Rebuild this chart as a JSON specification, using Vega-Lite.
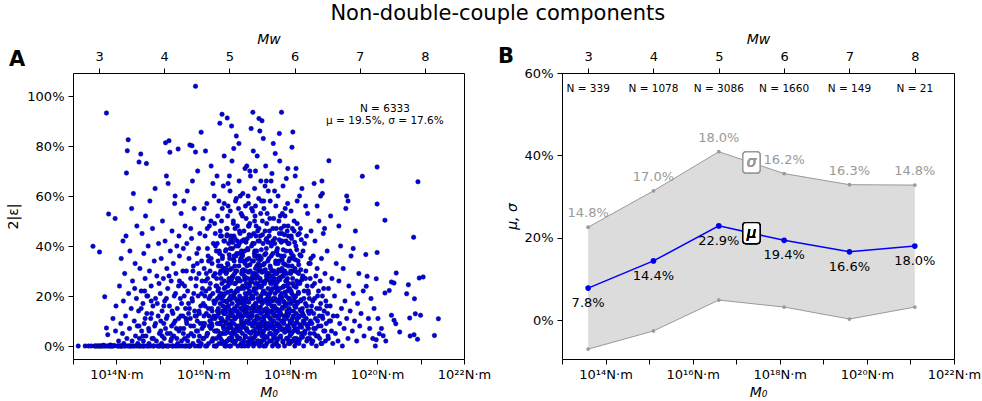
{
  "$schema": "https://vega.github.io/schema/vega-lite/v6.json",
  "padding": {"left": 6, "top": 2, "right": 0, "bottom": 0},
  "title": {"text": "Non-double-couple components", "fontSize": 21, "fontWeight": "normal", "anchor": "middle", "dx": 4, "offset": 8, "color": "#000"},
  "config": {
    "font": "DejaVu Sans",
    "view": {"stroke": "#000", "strokeWidth": 1},
    "axis": {"domain": false, "grid": false, "tickColor": "#000", "tickSize": 5, "labelFontSize": 13, "labelColor": "#000", "labelPadding": 4, "titleFontSize": 14, "titleFontWeight": "normal", "titleColor": "#000"}
  },
  "datasets": {
    "bins": [
      {"Mw": 3, "mu": 0.078, "sigma": 0.148, "hi": 0.226, "lo": -0.070, "nlabel": "N = 339"},
      {"Mw": 4, "mu": 0.144, "sigma": 0.170, "hi": 0.314, "lo": -0.026, "nlabel": "N = 1078"},
      {"Mw": 5, "mu": 0.229, "sigma": 0.180, "hi": 0.409, "lo": 0.049, "nlabel": "N = 3086"},
      {"Mw": 6, "mu": 0.194, "sigma": 0.162, "hi": 0.356, "lo": 0.032, "nlabel": "N = 1660"},
      {"Mw": 7, "mu": 0.166, "sigma": 0.163, "hi": 0.329, "lo": 0.003, "nlabel": "N = 149"},
      {"Mw": 8, "mu": 0.180, "sigma": 0.148, "hi": 0.328, "lo": 0.032, "nlabel": "N = 21"}
    ],
    "eq": [
      {"lgm":13.12,"eps":0},{"lgm":13.28,"eps":0},{"lgm":13.36,"eps":0},{"lgm":13.42,"eps":0},{"lgm":13.46,"eps":0.399},{"lgm":13.5,"eps":0},{"lgm":13.55,"eps":0},{"lgm":13.61,"eps":0.376},{"lgm":13.6,"eps":0},{"lgm":13.65,"eps":0},{"lgm":13.7,"eps":0.003},{"lgm":13.73,"eps":0.197},{"lgm":13.75,"eps":0},{"lgm":13.77,"eps":0.932},{"lgm":13.77,"eps":0.072},{"lgm":13.8,"eps":0.045},{"lgm":13.82,"eps":0.528},{"lgm":13.83,"eps":0},{"lgm":13.86,"eps":0.004},{"lgm":13.9,"eps":0},{"lgm":13.92,"eps":0.11},{"lgm":13.95,"eps":0.002},{"lgm":13.97,"eps":0.51},{"lgm":13.98,"eps":0.06},{"lgm":13.99,"eps":0.16},
      {"lgm":13.52,"eps":0},{"lgm":13.58,"eps":0},{"lgm":13.63,"eps":0},{"lgm":13.68,"eps":0},{"lgm":13.72,"eps":0},{"lgm":13.79,"eps":0},{"lgm":13.85,"eps":0},{"lgm":13.88,"eps":0},{"lgm":13.93,"eps":0},{"lgm":14.04,"eps":0},{"lgm":14.09,"eps":0},{"lgm":14.12,"eps":0},{"lgm":14.18,"eps":0},{"lgm":14.32,"eps":0},{"lgm":14.38,"eps":0},{"lgm":14.53,"eps":0},{"lgm":14.62,"eps":0},{"lgm":14.73,"eps":0},{"lgm":14.85,"eps":0},{"lgm":14.98,"eps":0},{"lgm":15.08,"eps":0},{"lgm":15.18,"eps":0},{"lgm":15.3,"eps":0},{"lgm":15.4,"eps":0},{"lgm":15.58,"eps":0},{"lgm":15.7,"eps":0},{"lgm":15.88,"eps":0},{"lgm":16.08,"eps":0},{"lgm":16.25,"eps":0},
      {"lgm":14.02,"eps":0},{"lgm":14.05,"eps":0.02},{"lgm":14.07,"eps":0.24},{"lgm":14.08,"eps":0},{"lgm":14.1,"eps":0.09},{"lgm":14.11,"eps":0.35},{"lgm":14.13,"eps":0},{"lgm":14.14,"eps":0.05},{"lgm":14.16,"eps":0.18},{"lgm":14.17,"eps":0.01},{"lgm":14.19,"eps":0.29},{"lgm":14.2,"eps":0},{"lgm":14.21,"eps":0.12},{"lgm":14.22,"eps":0.44},{"lgm":14.23,"eps":0.692},{"lgm":14.25,"eps":0.781},{"lgm":14.27,"eps":0.825},{"lgm":14.24,"eps":0.03},{"lgm":14.26,"eps":0},{"lgm":14.28,"eps":0.21},{"lgm":14.3,"eps":0.07},{"lgm":14.31,"eps":0.38},{"lgm":14.33,"eps":0},{"lgm":14.34,"eps":0.15},{"lgm":14.36,"eps":0.02},{"lgm":14.37,"eps":0.26},{"lgm":14.39,"eps":0.61},{"lgm":14.4,"eps":0},{"lgm":14.41,"eps":0.1},{"lgm":14.43,"eps":0.33},{"lgm":14.44,"eps":0.04},{"lgm":14.45,"eps":0},{"lgm":14.46,"eps":0.19},{"lgm":14.47,"eps":0.48},{"lgm":14.48,"eps":0.08},{"lgm":14.49,"eps":0.01},{"lgm":14.35,"eps":0.55},{"lgm":14.15,"eps":0.42},{"lgm":14.29,"eps":0},{"lgm":14.42,"eps":0.23},
      {"lgm":14.5,"eps":0},{"lgm":14.51,"eps":0.14},{"lgm":14.52,"eps":0.736},{"lgm":14.53,"eps":0.03},{"lgm":14.54,"eps":0.31},{"lgm":14.55,"eps":0},{"lgm":14.56,"eps":0.768},{"lgm":14.57,"eps":0.22},{"lgm":14.58,"eps":0.06},{"lgm":14.59,"eps":0.45},{"lgm":14.6,"eps":0},{"lgm":14.61,"eps":0.17},{"lgm":14.62,"eps":0.02},{"lgm":14.63,"eps":0.37},{"lgm":14.64,"eps":0.09},{"lgm":14.65,"eps":0},{"lgm":14.66,"eps":0.27},{"lgm":14.67,"eps":0.52},{"lgm":14.68,"eps":0.04},{"lgm":14.69,"eps":0.73},{"lgm":14.7,"eps":0.13},{"lgm":14.71,"eps":0},{"lgm":14.72,"eps":0.2},{"lgm":14.73,"eps":0.4},{"lgm":14.74,"eps":0.07},{"lgm":14.75,"eps":0.01},{"lgm":14.76,"eps":0.3},{"lgm":14.77,"eps":0.58},{"lgm":14.78,"eps":0},{"lgm":14.79,"eps":0.11},{"lgm":14.8,"eps":0.24},{"lgm":14.82,"eps":0.03},{"lgm":14.83,"eps":0.47},{"lgm":14.84,"eps":0.16},{"lgm":14.86,"eps":0},{"lgm":14.87,"eps":0.34},{"lgm":14.88,"eps":0.08},{"lgm":14.89,"eps":0.63},{"lgm":14.9,"eps":0.19},{"lgm":14.92,"eps":0.02},{"lgm":14.93,"eps":0.28},{"lgm":14.95,"eps":0},{"lgm":14.96,"eps":0.12},{"lgm":14.97,"eps":0.41},{"lgm":14.99,"eps":0.05},
      {"lgm":15.0,"eps":0},{"lgm":15.01,"eps":0.21},{"lgm":15.02,"eps":0.06},{"lgm":15.03,"eps":0.35},{"lgm":15.04,"eps":0.01},{"lgm":15.05,"eps":0.14},{"lgm":15.06,"eps":0.5},{"lgm":15.07,"eps":0},{"lgm":15.08,"eps":0.27},{"lgm":15.09,"eps":0.09},{"lgm":15.1,"eps":0.03},{"lgm":15.11,"eps":0.18},{"lgm":15.12,"eps":0.42},{"lgm":15.13,"eps":0.813},{"lgm":15.14,"eps":0},{"lgm":15.15,"eps":0.11},{"lgm":15.16,"eps":0.31},{"lgm":15.17,"eps":0.05},{"lgm":15.18,"eps":0.23},{"lgm":15.19,"eps":0.65},{"lgm":15.2,"eps":0},{"lgm":15.21,"eps":0.821},{"lgm":15.22,"eps":0.16},{"lgm":15.23,"eps":0.775},{"lgm":15.24,"eps":0.38},{"lgm":15.25,"eps":0.02},{"lgm":15.26,"eps":0.26},{"lgm":15.27,"eps":0.08},{"lgm":15.28,"eps":0.46},{"lgm":15.29,"eps":0},{"lgm":15.3,"eps":0.13},{"lgm":15.31,"eps":0.33},{"lgm":15.32,"eps":0.04},{"lgm":15.33,"eps":0.2},{"lgm":15.34,"eps":0.57},{"lgm":15.35,"eps":0.1},{"lgm":15.36,"eps":0},{"lgm":15.37,"eps":0.29},{"lgm":15.38,"eps":0.07},{"lgm":15.39,"eps":0.4},{"lgm":15.4,"eps":0.15},{"lgm":15.41,"eps":0.01},{"lgm":15.42,"eps":0.788},{"lgm":15.43,"eps":0.24},{"lgm":15.44,"eps":0.06},{"lgm":15.45,"eps":0.36},{"lgm":15.46,"eps":0},{"lgm":15.47,"eps":0.19},{"lgm":15.48,"eps":0.12},{"lgm":15.49,"eps":0.53},{"lgm":15.15,"eps":0.68},{"lgm":15.35,"eps":0.6},{"lgm":15.27,"eps":0.03},{"lgm":15.44,"eps":0.44},{"lgm":15.06,"eps":0},
      {"lgm":15.5,"eps":0.02},{"lgm":15.51,"eps":0.25},{"lgm":15.52,"eps":0},{"lgm":15.53,"eps":0.12},{"lgm":15.54,"eps":0.39},{"lgm":15.55,"eps":0.07},{"lgm":15.56,"eps":0.2},{"lgm":15.57,"eps":0.03},{"lgm":15.58,"eps":0.48},{"lgm":15.59,"eps":0.15},{"lgm":15.6,"eps":0},{"lgm":15.61,"eps":0.3},{"lgm":15.62,"eps":0.09},{"lgm":15.63,"eps":0.62},{"lgm":15.64,"eps":0.22},{"lgm":15.65,"eps":0.04},{"lgm":15.66,"eps":0.17},{"lgm":15.67,"eps":0.35},{"lgm":15.68,"eps":0},{"lgm":15.69,"eps":0.804},{"lgm":15.7,"eps":0.11},{"lgm":15.71,"eps":0.27},{"lgm":15.72,"eps":0.05},{"lgm":15.73,"eps":0.43},{"lgm":15.74,"eps":0.801},{"lgm":15.75,"eps":0.18},{"lgm":15.76,"eps":0.01},{"lgm":15.77,"eps":0.32},{"lgm":15.78,"eps":0.08},{"lgm":15.79,"eps":0.55},{"lgm":15.8,"eps":0.14},{"lgm":15.81,"eps":0},{"lgm":15.82,"eps":0.776},{"lgm":15.82,"eps":1.039},{"lgm":15.83,"eps":0.24},{"lgm":15.84,"eps":0.06},{"lgm":15.85,"eps":0.37},{"lgm":15.86,"eps":0.1},{"lgm":15.87,"eps":0.7},{"lgm":15.88,"eps":0.2},{"lgm":15.89,"eps":0.02},{"lgm":15.9,"eps":0.29},{"lgm":15.91,"eps":0.13},{"lgm":15.92,"eps":0.45},{"lgm":15.93,"eps":0},{"lgm":15.94,"eps":0.16},{"lgm":15.95,"eps":0.855},{"lgm":15.96,"eps":0.34},{"lgm":15.97,"eps":0.07},{"lgm":15.98,"eps":0.23},{"lgm":15.99,"eps":0.51},{"lgm":15.55,"eps":0.58},{"lgm":15.62,"eps":0.41},{"lgm":15.66,"eps":0},{"lgm":15.71,"eps":0.47},{"lgm":15.78,"eps":0.21},{"lgm":15.86,"eps":0.33},{"lgm":15.91,"eps":0.04},{"lgm":15.97,"eps":0.26},{"lgm":15.53,"eps":0.3},{"lgm":15.6,"eps":0.11},{"lgm":15.75,"eps":0.66},{"lgm":15.84,"eps":0.12},{"lgm":15.89,"eps":0.39},{"lgm":15.99,"eps":0.09},
      {"lgm":14.52,"eps":0.08},{"lgm":14.57,"eps":0.15},{"lgm":14.61,"eps":0.04},{"lgm":14.66,"eps":0.11},{"lgm":14.7,"eps":0.2},{"lgm":14.75,"eps":0.06},{"lgm":14.81,"eps":0.13},{"lgm":14.85,"eps":0.03},{"lgm":14.9,"eps":0.09},{"lgm":14.94,"eps":0.17},{"lgm":14.98,"eps":0.25},{"lgm":15.02,"eps":0.1},{"lgm":15.05,"eps":0.04},{"lgm":15.09,"eps":0.16},{"lgm":15.13,"eps":0.07},{"lgm":15.17,"eps":0.12},{"lgm":15.21,"eps":0.28},{"lgm":15.24,"eps":0.05},{"lgm":15.28,"eps":0.14},{"lgm":15.32,"eps":0.09},{"lgm":15.36,"eps":0.21},{"lgm":15.39,"eps":0.03},{"lgm":15.43,"eps":0.11},{"lgm":15.47,"eps":0.07},{"lgm":15.5,"eps":0.17},{"lgm":15.54,"eps":0.05},{"lgm":15.57,"eps":0.24},{"lgm":15.61,"eps":0.1},{"lgm":15.64,"eps":0.02},{"lgm":15.68,"eps":0.15},{"lgm":15.71,"eps":0.08},{"lgm":15.74,"eps":0.19},{"lgm":15.78,"eps":0.04},{"lgm":15.81,"eps":0.12},{"lgm":15.84,"eps":0.27},{"lgm":15.87,"eps":0.06},{"lgm":15.9,"eps":0.14},{"lgm":15.93,"eps":0.09},{"lgm":15.96,"eps":0.21},{"lgm":15.99,"eps":0.03},{"lgm":16.01,"eps":0.08},{"lgm":16.04,"eps":0.16},{"lgm":16.07,"eps":0.29},{"lgm":16.1,"eps":0.05},{"lgm":16.13,"eps":0.12},{"lgm":16.16,"eps":0.2},{"lgm":16.19,"eps":0.09},{"lgm":16.22,"eps":0.03},{"lgm":16.24,"eps":0.18},{"lgm":16.27,"eps":0.11},{"lgm":16.29,"eps":0.24},{"lgm":16.31,"eps":0.06},{"lgm":15.76,"eps":0.3},{"lgm":15.45,"eps":0.26},{"lgm":15.15,"eps":0.19},{"lgm":14.8,"eps":0.18},{"lgm":14.65,"eps":0.22},{"lgm":15.66,"eps":0.13},{"lgm":15.95,"eps":0.01},{"lgm":16.2,"eps":0.14},
      {"lgm":16.0,"eps":0.17},{"lgm":16.01,"eps":0.03},{"lgm":16.02,"eps":0.31},{"lgm":16.03,"eps":0.09},{"lgm":16.04,"eps":0.44},{"lgm":16.05,"eps":0},{"lgm":16.06,"eps":0.22},{"lgm":16.07,"eps":0.13},{"lgm":16.08,"eps":0.57},{"lgm":16.09,"eps":0.05},{"lgm":16.1,"eps":0.27},{"lgm":16.11,"eps":0.36},{"lgm":16.12,"eps":0.01},{"lgm":16.13,"eps":0.19},{"lgm":16.14,"eps":0.48},{"lgm":16.15,"eps":0.1},{"lgm":16.16,"eps":0.25},{"lgm":16.17,"eps":0.07},{"lgm":16.18,"eps":0.72},{"lgm":16.19,"eps":0.15},{"lgm":16.2,"eps":0.33},{"lgm":16.21,"eps":0.02},{"lgm":16.22,"eps":0.21},{"lgm":16.23,"eps":0.41},{"lgm":16.24,"eps":0.12},{"lgm":16.25,"eps":0.6},{"lgm":16.26,"eps":0.06},{"lgm":16.27,"eps":0.29},{"lgm":16.28,"eps":0.18},{"lgm":16.29,"eps":0},{"lgm":16.3,"eps":0.38},{"lgm":16.31,"eps":0.24},{"lgm":16.32,"eps":0.09},{"lgm":16.33,"eps":0.52},{"lgm":16.34,"eps":0.14},{"lgm":16.35,"eps":0.32},{"lgm":16.36,"eps":0.04},{"lgm":16.37,"eps":0.2},{"lgm":16.38,"eps":0.891},{"lgm":16.39,"eps":0.46},{"lgm":16.4,"eps":0.11},{"lgm":16.41,"eps":0.27},{"lgm":16.42,"eps":0.01},{"lgm":16.43,"eps":0.927},{"lgm":16.44,"eps":0.35},{"lgm":16.45,"eps":0.16},{"lgm":16.46,"eps":0.64},{"lgm":16.47,"eps":0.07},{"lgm":16.48,"eps":0.23},{"lgm":16.49,"eps":0.42},
      {"lgm":16.015,"eps":0.12},{"lgm":16.035,"eps":0.2},{"lgm":16.055,"eps":0.26},{"lgm":16.075,"eps":0.04},{"lgm":16.095,"eps":0.39},{"lgm":16.115,"eps":0.15},{"lgm":16.135,"eps":0.08},{"lgm":16.155,"eps":0.3},{"lgm":16.175,"eps":0.5},{"lgm":16.195,"eps":0.02},{"lgm":16.215,"eps":0.11},{"lgm":16.235,"eps":0.28},{"lgm":16.255,"eps":0.17},{"lgm":16.275,"eps":0.45},{"lgm":16.295,"eps":0.06},{"lgm":16.315,"eps":0.68},{"lgm":16.335,"eps":0.22},{"lgm":16.355,"eps":0.13},{"lgm":16.375,"eps":0.37},{"lgm":16.395,"eps":0.03},{"lgm":16.415,"eps":0.19},{"lgm":16.435,"eps":0.55},{"lgm":16.455,"eps":0.1},{"lgm":16.475,"eps":0.31},{"lgm":16.495,"eps":0},{"lgm":16.05,"eps":0.78},{"lgm":16.12,"eps":0.34},{"lgm":16.2,"eps":0.08},{"lgm":16.28,"eps":0.4},{"lgm":16.36,"eps":0.58},{"lgm":16.44,"eps":0.05},{"lgm":16.48,"eps":0.76},{"lgm":16.26,"eps":0.49},{"lgm":16.14,"eps":0.23},{"lgm":16.32,"eps":0.14},{"lgm":16.4,"eps":0.3},{"lgm":16.22,"eps":0.65},{"lgm":16.46,"eps":0.2},{"lgm":16.09,"eps":0.47},{"lgm":16.3,"eps":0},{"lgm":16.42,"eps":0.44},{"lgm":16.18,"eps":0.35},{"lgm":16.38,"eps":0.09},{"lgm":16.02,"eps":0.55},{"lgm":16.47,"eps":0.13},
      {"lgm":16.3,"eps":0.03},{"lgm":16.307,"eps":0.27},{"lgm":16.313,"eps":0.12},{"lgm":16.32,"eps":0.41},{"lgm":16.327,"eps":0.19},{"lgm":16.333,"eps":0.06},{"lgm":16.34,"eps":0.34},{"lgm":16.347,"eps":0.15},{"lgm":16.353,"eps":0.23},{"lgm":16.36,"eps":0.01},{"lgm":16.367,"eps":0.38},{"lgm":16.373,"eps":0.09},{"lgm":16.38,"eps":0.29},{"lgm":16.387,"eps":0.17},{"lgm":16.393,"eps":0.44},{"lgm":16.4,"eps":0.05},{"lgm":16.407,"eps":0.21},{"lgm":16.413,"eps":0.32},{"lgm":16.42,"eps":0.11},{"lgm":16.427,"eps":0.25},{"lgm":16.433,"eps":0.02},{"lgm":16.44,"eps":0.36},{"lgm":16.447,"eps":0.14},{"lgm":16.453,"eps":0.08},{"lgm":16.46,"eps":0.3},{"lgm":16.467,"eps":0.18},{"lgm":16.473,"eps":0.42},{"lgm":16.48,"eps":0.07},{"lgm":16.487,"eps":0.26},{"lgm":16.493,"eps":0.13},
      {"lgm":16.502,"eps":0.155},{"lgm":16.508,"eps":0.235},{"lgm":16.515,"eps":0.015},{"lgm":16.522,"eps":0.385},{"lgm":16.528,"eps":0.095},{"lgm":16.535,"eps":0.295},{"lgm":16.542,"eps":0.175},{"lgm":16.548,"eps":0.445},{"lgm":16.555,"eps":0.055},{"lgm":16.562,"eps":0.215},{"lgm":16.568,"eps":0.325},{"lgm":16.575,"eps":0.115},{"lgm":16.582,"eps":0.255},{"lgm":16.588,"eps":0.025},{"lgm":16.595,"eps":0.365},{"lgm":16.602,"eps":0.145},{"lgm":16.608,"eps":0.085},{"lgm":16.615,"eps":0.305},{"lgm":16.622,"eps":0.185},{"lgm":16.628,"eps":0.425},{"lgm":16.635,"eps":0.075},{"lgm":16.642,"eps":0.265},{"lgm":16.648,"eps":0.135},{"lgm":16.655,"eps":0.035},{"lgm":16.662,"eps":0.275},{"lgm":16.668,"eps":0.125},{"lgm":16.675,"eps":0.415},{"lgm":16.682,"eps":0.195},{"lgm":16.688,"eps":0.065},{"lgm":16.695,"eps":0.345},
      {"lgm":16.704,"eps":0.44},{"lgm":16.71,"eps":0.05},{"lgm":16.717,"eps":0.21},{"lgm":16.724,"eps":0.32},{"lgm":16.73,"eps":0.11},{"lgm":16.737,"eps":0.25},{"lgm":16.744,"eps":0.02},{"lgm":16.75,"eps":0.36},{"lgm":16.757,"eps":0.14},{"lgm":16.764,"eps":0.08},{"lgm":16.77,"eps":0.3},{"lgm":16.777,"eps":0.18},{"lgm":16.784,"eps":0.42},{"lgm":16.79,"eps":0.07},{"lgm":16.797,"eps":0.26},{"lgm":16.804,"eps":0.13},{"lgm":16.81,"eps":0.03},{"lgm":16.817,"eps":0.27},{"lgm":16.824,"eps":0.12},{"lgm":16.83,"eps":0.41},{"lgm":16.837,"eps":0.19},{"lgm":16.844,"eps":0.06},{"lgm":16.85,"eps":0.34},{"lgm":16.857,"eps":0.15},{"lgm":16.864,"eps":0.23},{"lgm":16.87,"eps":0.01},{"lgm":16.877,"eps":0.38},{"lgm":16.884,"eps":0.09},{"lgm":16.89,"eps":0.29},{"lgm":16.897,"eps":0.17},
      {"lgm":16.901,"eps":0.365},{"lgm":16.908,"eps":0.145},{"lgm":16.914,"eps":0.085},{"lgm":16.921,"eps":0.305},{"lgm":16.928,"eps":0.185},{"lgm":16.934,"eps":0.425},{"lgm":16.941,"eps":0.075},{"lgm":16.948,"eps":0.265},{"lgm":16.954,"eps":0.135},{"lgm":16.961,"eps":0.035},{"lgm":16.968,"eps":0.275},{"lgm":16.974,"eps":0.125},{"lgm":16.981,"eps":0.415},{"lgm":16.988,"eps":0.195},{"lgm":16.994,"eps":0.065},{"lgm":17.001,"eps":0.345},{"lgm":17.008,"eps":0.155},{"lgm":17.014,"eps":0.235},{"lgm":17.021,"eps":0.015},{"lgm":17.028,"eps":0.385},{"lgm":17.034,"eps":0.095},{"lgm":17.041,"eps":0.295},{"lgm":17.048,"eps":0.175},{"lgm":17.054,"eps":0.445},{"lgm":17.061,"eps":0.055},{"lgm":17.068,"eps":0.215},{"lgm":17.074,"eps":0.325},{"lgm":17.081,"eps":0.115},{"lgm":17.088,"eps":0.255},{"lgm":17.094,"eps":0.025},
      {"lgm":17.103,"eps":0.26},{"lgm":17.11,"eps":0.13},{"lgm":17.116,"eps":0.03},{"lgm":17.123,"eps":0.27},{"lgm":17.13,"eps":0.12},{"lgm":17.136,"eps":0.41},{"lgm":17.143,"eps":0.19},{"lgm":17.15,"eps":0.06},{"lgm":17.156,"eps":0.34},{"lgm":17.163,"eps":0.15},{"lgm":17.17,"eps":0.23},{"lgm":17.176,"eps":0.01},{"lgm":17.183,"eps":0.38},{"lgm":17.19,"eps":0.09},{"lgm":17.196,"eps":0.29},{"lgm":17.203,"eps":0.17},{"lgm":17.21,"eps":0.44},{"lgm":17.216,"eps":0.05},{"lgm":17.223,"eps":0.21},{"lgm":17.23,"eps":0.32},{"lgm":17.236,"eps":0.11},{"lgm":17.243,"eps":0.25},{"lgm":17.25,"eps":0.02},{"lgm":17.256,"eps":0.36},{"lgm":17.263,"eps":0.14},{"lgm":17.27,"eps":0.08},{"lgm":17.276,"eps":0.3},{"lgm":17.283,"eps":0.18},{"lgm":17.29,"eps":0.42},{"lgm":17.296,"eps":0.07},
      {"lgm":17.302,"eps":0.065},{"lgm":17.309,"eps":0.345},{"lgm":17.315,"eps":0.155},{"lgm":17.322,"eps":0.235},{"lgm":17.329,"eps":0.015},{"lgm":17.335,"eps":0.385},{"lgm":17.342,"eps":0.095},{"lgm":17.349,"eps":0.295},{"lgm":17.355,"eps":0.175},{"lgm":17.362,"eps":0.445},{"lgm":17.369,"eps":0.055},{"lgm":17.375,"eps":0.215},{"lgm":17.382,"eps":0.325},{"lgm":17.389,"eps":0.115},{"lgm":17.395,"eps":0.255},{"lgm":17.402,"eps":0.025},{"lgm":17.409,"eps":0.365},{"lgm":17.415,"eps":0.145},{"lgm":17.422,"eps":0.085},{"lgm":17.429,"eps":0.305},{"lgm":17.435,"eps":0.185},{"lgm":17.442,"eps":0.425},{"lgm":17.449,"eps":0.075},{"lgm":17.455,"eps":0.265},{"lgm":17.462,"eps":0.135},{"lgm":17.469,"eps":0.035},{"lgm":17.475,"eps":0.275},{"lgm":17.482,"eps":0.125},{"lgm":17.489,"eps":0.415},{"lgm":17.495,"eps":0.195},
      {"lgm":17.504,"eps":0.29},{"lgm":17.511,"eps":0.17},{"lgm":17.517,"eps":0.44},{"lgm":17.524,"eps":0.05},{"lgm":17.531,"eps":0.21},{"lgm":17.537,"eps":0.32},{"lgm":17.544,"eps":0.11},{"lgm":17.551,"eps":0.25},{"lgm":17.557,"eps":0.02},{"lgm":17.564,"eps":0.36},{"lgm":17.571,"eps":0.14},{"lgm":17.577,"eps":0.08},{"lgm":17.584,"eps":0.3},{"lgm":17.591,"eps":0.18},{"lgm":17.597,"eps":0.42},{"lgm":17.604,"eps":0.07},{"lgm":17.611,"eps":0.26},{"lgm":17.617,"eps":0.13},{"lgm":17.624,"eps":0.03},{"lgm":17.631,"eps":0.27},{"lgm":17.637,"eps":0.12},{"lgm":17.644,"eps":0.41},{"lgm":17.651,"eps":0.19},{"lgm":17.657,"eps":0.06},{"lgm":17.664,"eps":0.34},{"lgm":17.671,"eps":0.15},{"lgm":17.677,"eps":0.23},{"lgm":17.684,"eps":0.01},{"lgm":17.691,"eps":0.38},{"lgm":17.697,"eps":0.09},
      {"lgm":17.701,"eps":0.255},{"lgm":17.708,"eps":0.025},{"lgm":17.714,"eps":0.365},{"lgm":17.721,"eps":0.145},{"lgm":17.728,"eps":0.085},{"lgm":17.734,"eps":0.305},{"lgm":17.741,"eps":0.185},{"lgm":17.748,"eps":0.425},{"lgm":17.754,"eps":0.075},{"lgm":17.761,"eps":0.265},{"lgm":17.768,"eps":0.135},{"lgm":17.774,"eps":0.035},{"lgm":17.781,"eps":0.275},{"lgm":17.788,"eps":0.125},{"lgm":17.794,"eps":0.415},{"lgm":17.801,"eps":0.195},{"lgm":17.808,"eps":0.065},{"lgm":17.814,"eps":0.345},{"lgm":17.821,"eps":0.155},{"lgm":17.828,"eps":0.235},{"lgm":17.834,"eps":0.015},{"lgm":17.841,"eps":0.385},{"lgm":17.848,"eps":0.095},{"lgm":17.854,"eps":0.295},{"lgm":17.861,"eps":0.175},{"lgm":17.868,"eps":0.445},{"lgm":17.874,"eps":0.055},{"lgm":17.881,"eps":0.215},{"lgm":17.888,"eps":0.325},{"lgm":17.894,"eps":0.115},
      {"lgm":17.903,"eps":0.42},{"lgm":17.91,"eps":0.07},{"lgm":17.916,"eps":0.26},{"lgm":17.923,"eps":0.13},{"lgm":17.93,"eps":0.03},{"lgm":17.936,"eps":0.27},{"lgm":17.943,"eps":0.12},{"lgm":17.95,"eps":0.41},{"lgm":17.956,"eps":0.19},{"lgm":17.963,"eps":0.06},{"lgm":17.97,"eps":0.34},{"lgm":17.976,"eps":0.15},{"lgm":17.983,"eps":0.23},{"lgm":17.99,"eps":0.01},{"lgm":17.996,"eps":0.38},{"lgm":18.003,"eps":0.09},{"lgm":18.01,"eps":0.29},{"lgm":18.016,"eps":0.17},{"lgm":18.023,"eps":0.44},{"lgm":18.03,"eps":0.05},{"lgm":18.036,"eps":0.21},{"lgm":18.043,"eps":0.32},{"lgm":18.05,"eps":0.11},{"lgm":18.056,"eps":0.25},{"lgm":18.063,"eps":0.02},{"lgm":18.07,"eps":0.36},{"lgm":18.076,"eps":0.14},{"lgm":18.083,"eps":0.08},{"lgm":18.09,"eps":0.3},{"lgm":18.096,"eps":0.18},
      {"lgm":18.102,"eps":0.415},{"lgm":18.109,"eps":0.195},{"lgm":18.115,"eps":0.065},{"lgm":18.122,"eps":0.345},{"lgm":18.129,"eps":0.155},{"lgm":18.135,"eps":0.235},{"lgm":18.142,"eps":0.015},{"lgm":18.149,"eps":0.385},{"lgm":18.155,"eps":0.095},{"lgm":18.162,"eps":0.295},{"lgm":18.169,"eps":0.175},{"lgm":18.175,"eps":0.445},{"lgm":18.182,"eps":0.055},{"lgm":18.189,"eps":0.215},{"lgm":18.195,"eps":0.325},{"lgm":18.202,"eps":0.115},{"lgm":18.209,"eps":0.255},{"lgm":18.215,"eps":0.025},{"lgm":18.222,"eps":0.365},{"lgm":18.229,"eps":0.145},{"lgm":18.235,"eps":0.085},{"lgm":18.242,"eps":0.305},{"lgm":18.249,"eps":0.185},{"lgm":18.255,"eps":0.425},{"lgm":18.262,"eps":0.075},{"lgm":18.269,"eps":0.265},{"lgm":18.275,"eps":0.135},{"lgm":18.282,"eps":0.035},{"lgm":18.289,"eps":0.275},{"lgm":18.295,"eps":0.125},
      {"lgm":16.42,"eps":0.5},{"lgm":16.48,"eps":0.57},{"lgm":16.55,"eps":0.47},{"lgm":16.62,"eps":0.54},{"lgm":16.69,"eps":0.49},{"lgm":16.76,"eps":0.59},{"lgm":16.83,"eps":0.46},{"lgm":16.9,"eps":0.52},{"lgm":16.97,"eps":0.56},{"lgm":17.04,"eps":0.48},{"lgm":17.11,"eps":0.55},{"lgm":17.18,"eps":0.5},{"lgm":17.25,"eps":0.46},{"lgm":17.32,"eps":0.53},{"lgm":17.39,"eps":0.58},{"lgm":17.46,"eps":0.49},{"lgm":17.53,"eps":0.51},{"lgm":17.6,"eps":0.47},{"lgm":17.67,"eps":0.56},{"lgm":17.74,"eps":0.5},{"lgm":17.81,"eps":0.45},{"lgm":17.88,"eps":0.52},{"lgm":17.95,"eps":0.48},{"lgm":18.02,"eps":0.54},{"lgm":18.09,"eps":0.46},{"lgm":18.16,"eps":0.49},{"lgm":16.6,"eps":0.68},{"lgm":17.0,"eps":0.72},{"lgm":17.45,"eps":0.66},{"lgm":17.2,"eps":0.7},
      {"lgm":16.5,"eps":0.21},{"lgm":16.505,"eps":0.05},{"lgm":16.51,"eps":0.38},{"lgm":16.515,"eps":0.14},{"lgm":16.52,"eps":0},{"lgm":16.525,"eps":0.29},{"lgm":16.53,"eps":0.09},{"lgm":16.535,"eps":0.47},{"lgm":16.54,"eps":0.18},{"lgm":16.545,"eps":0.02},{"lgm":16.55,"eps":0.912},{"lgm":16.555,"eps":0.33},{"lgm":16.56,"eps":0.11},{"lgm":16.565,"eps":0.24},{"lgm":16.57,"eps":0.56},{"lgm":16.575,"eps":0.07},{"lgm":16.58,"eps":0.16},{"lgm":16.585,"eps":0.41},{"lgm":16.59,"eps":0.27},{"lgm":16.595,"eps":0.03},
      {"lgm":16.6,"eps":0.19},{"lgm":16.605,"eps":0.35},{"lgm":16.61,"eps":0.08},{"lgm":16.615,"eps":0.62},{"lgm":16.62,"eps":0.13},{"lgm":16.625,"eps":0.26},{"lgm":16.63,"eps":0},{"lgm":16.635,"eps":0.44},{"lgm":16.64,"eps":0.22},{"lgm":16.645,"eps":0.1},{"lgm":16.65,"eps":0.31},{"lgm":16.655,"eps":0.05},{"lgm":16.66,"eps":0.74},{"lgm":16.665,"eps":0.17},{"lgm":16.67,"eps":0.39},{"lgm":16.675,"eps":0.12},{"lgm":16.68,"eps":0.28},{"lgm":16.685,"eps":0.02},{"lgm":16.69,"eps":0.5},{"lgm":16.695,"eps":0.2},
      {"lgm":16.7,"eps":0.09},{"lgm":16.705,"eps":0.36},{"lgm":16.71,"eps":0.15},{"lgm":16.715,"eps":0.25},{"lgm":16.72,"eps":0.01},{"lgm":16.725,"eps":0.43},{"lgm":16.73,"eps":0.19},{"lgm":16.735,"eps":0.11},{"lgm":16.74,"eps":0.58},{"lgm":16.745,"eps":0.3},{"lgm":16.75,"eps":0.06},{"lgm":16.755,"eps":0.22},{"lgm":16.76,"eps":0.84},{"lgm":16.765,"eps":0.14},{"lgm":16.77,"eps":0.37},{"lgm":16.775,"eps":0.04},{"lgm":16.78,"eps":0.27},{"lgm":16.785,"eps":0.48},{"lgm":16.79,"eps":0.12},{"lgm":16.795,"eps":0},
      {"lgm":16.8,"eps":0.23},{"lgm":16.805,"eps":0.4},{"lgm":16.81,"eps":0.08},{"lgm":16.815,"eps":0.17},{"lgm":16.82,"eps":0.32},{"lgm":16.825,"eps":0.66},{"lgm":16.83,"eps":0.03},{"lgm":16.835,"eps":0.2},{"lgm":16.84,"eps":0.13},{"lgm":16.845,"eps":0.45},{"lgm":16.85,"eps":0.26},{"lgm":16.855,"eps":0.07},{"lgm":16.86,"eps":0.35},{"lgm":16.865,"eps":0.18},{"lgm":16.87,"eps":0.53},{"lgm":16.875,"eps":0.1},{"lgm":16.88,"eps":0},{"lgm":16.885,"eps":0.29},{"lgm":16.89,"eps":0.42},{"lgm":16.895,"eps":0.15},
      {"lgm":16.9,"eps":0.05},{"lgm":16.905,"eps":0.24},{"lgm":16.91,"eps":0.61},{"lgm":16.915,"eps":0.12},{"lgm":16.92,"eps":0.34},{"lgm":16.925,"eps":0.19},{"lgm":16.93,"eps":0.02},{"lgm":16.935,"eps":0.46},{"lgm":16.94,"eps":0.28},{"lgm":16.945,"eps":0.09},{"lgm":16.95,"eps":0.38},{"lgm":16.955,"eps":0.16},{"lgm":16.96,"eps":0.71},{"lgm":16.965,"eps":0.21},{"lgm":16.97,"eps":0.04},{"lgm":16.975,"eps":0.3},{"lgm":16.98,"eps":0.14},{"lgm":16.985,"eps":0.51},{"lgm":16.99,"eps":0.25},{"lgm":16.995,"eps":0.07},
      {"lgm":16.52,"eps":0.31},{"lgm":16.58,"eps":0.08},{"lgm":16.63,"eps":0.2},{"lgm":16.67,"eps":0.02},{"lgm":16.72,"eps":0.29},{"lgm":16.77,"eps":0.16},{"lgm":16.83,"eps":0.37},{"lgm":16.88,"eps":0.11},{"lgm":16.93,"eps":0.23},{"lgm":16.97,"eps":0.42},{"lgm":16.54,"eps":0.44},{"lgm":16.6,"eps":0},{"lgm":16.66,"eps":0.27},{"lgm":16.71,"eps":0.34},{"lgm":16.76,"eps":0.06},{"lgm":16.81,"eps":0.55},{"lgm":16.86,"eps":0.19},{"lgm":16.91,"eps":0.01},{"lgm":16.96,"eps":0.33},{"lgm":16.51,"eps":0.13},{"lgm":16.57,"eps":0.65},{"lgm":16.62,"eps":0.39},{"lgm":16.68,"eps":0.14},{"lgm":16.73,"eps":0.47},{"lgm":16.79,"eps":0.22},{"lgm":16.84,"eps":0.03},{"lgm":16.89,"eps":0.3},{"lgm":16.94,"eps":0.17},{"lgm":16.99,"eps":0.1},{"lgm":16.56,"eps":0.52},{"lgm":16.64,"eps":0.05},{"lgm":16.7,"eps":0.79},{"lgm":16.75,"eps":0.4},{"lgm":16.8,"eps":0.12},{"lgm":16.85,"eps":0.6},{"lgm":16.9,"eps":0.36},{"lgm":16.95,"eps":0},{"lgm":16.65,"eps":0.88},{"lgm":16.82,"eps":0.81},{"lgm":16.61,"eps":0.25},
      {"lgm":17.0,"eps":0.18},{"lgm":17.005,"eps":0.32},{"lgm":17.01,"eps":0.06},{"lgm":17.015,"eps":0.43},{"lgm":17.02,"eps":0.12},{"lgm":17.025,"eps":0.27},{"lgm":17.03,"eps":0},{"lgm":17.035,"eps":0.21},{"lgm":17.04,"eps":0.57},{"lgm":17.045,"eps":0.09},{"lgm":17.05,"eps":0.35},{"lgm":17.055,"eps":0.15},{"lgm":17.06,"eps":0.03},{"lgm":17.065,"eps":0.24},{"lgm":17.07,"eps":0.49},{"lgm":17.075,"eps":0.11},{"lgm":17.08,"eps":0.3},{"lgm":17.085,"eps":0.68},{"lgm":17.09,"eps":0.19},{"lgm":17.095,"eps":0.05},
      {"lgm":17.1,"eps":0.26},{"lgm":17.105,"eps":0.13},{"lgm":17.11,"eps":0.4},{"lgm":17.115,"eps":0.02},{"lgm":17.12,"eps":0.2},{"lgm":17.125,"eps":0.34},{"lgm":17.13,"eps":0.08},{"lgm":17.135,"eps":0.54},{"lgm":17.14,"eps":0.935},{"lgm":17.145,"eps":0.16},{"lgm":17.15,"eps":0.29},{"lgm":17.155,"eps":0},{"lgm":17.16,"eps":0.45},{"lgm":17.165,"eps":0.22},{"lgm":17.17,"eps":0.1},{"lgm":17.175,"eps":0.37},{"lgm":17.18,"eps":0.63},{"lgm":17.185,"eps":0.14},{"lgm":17.19,"eps":0.25},{"lgm":17.195,"eps":0.04},
      {"lgm":17.2,"eps":0.31},{"lgm":17.205,"eps":0.17},{"lgm":17.21,"eps":0.07},{"lgm":17.215,"eps":0.48},{"lgm":17.22,"eps":0.23},{"lgm":17.225,"eps":0.01},{"lgm":17.23,"eps":0.38},{"lgm":17.235,"eps":0.12},{"lgm":17.24,"eps":0.76},{"lgm":17.245,"eps":0.28},{"lgm":17.25,"eps":0.09},{"lgm":17.255,"eps":0.19},{"lgm":17.26,"eps":0.42},{"lgm":17.265,"eps":0.05},{"lgm":17.27,"eps":0.33},{"lgm":17.275,"eps":0.59},{"lgm":17.28,"eps":0.15},{"lgm":17.285,"eps":0.24},{"lgm":17.29,"eps":0},{"lgm":17.295,"eps":0.36},
      {"lgm":17.3,"eps":0.11},{"lgm":17.305,"eps":0.27},{"lgm":17.31,"eps":0.44},{"lgm":17.315,"eps":0.06},{"lgm":17.32,"eps":0.2},{"lgm":17.325,"eps":0.66},{"lgm":17.33,"eps":0.13},{"lgm":17.335,"eps":0.35},{"lgm":17.34,"eps":0.02},{"lgm":17.345,"eps":0.24},{"lgm":17.35,"eps":0.901},{"lgm":17.355,"eps":0.17},{"lgm":17.36,"eps":0.5},{"lgm":17.365,"eps":0.08},{"lgm":17.37,"eps":0.3},{"lgm":17.375,"eps":0.41},{"lgm":17.38,"eps":0.14},{"lgm":17.385,"eps":0},{"lgm":17.39,"eps":0.22},{"lgm":17.395,"eps":0.55},
      {"lgm":17.4,"eps":0.1},{"lgm":17.405,"eps":0.33},{"lgm":17.41,"eps":0.18},{"lgm":17.415,"eps":0.04},{"lgm":17.42,"eps":0.46},{"lgm":17.425,"eps":0.26},{"lgm":17.43,"eps":0.12},{"lgm":17.435,"eps":0.72},{"lgm":17.44,"eps":0.21},{"lgm":17.445,"eps":0.07},{"lgm":17.45,"eps":0.39},{"lgm":17.455,"eps":0.15},{"lgm":17.46,"eps":0.01},{"lgm":17.465,"eps":0.29},{"lgm":17.47,"eps":0.53},{"lgm":17.475,"eps":0.19},{"lgm":17.48,"eps":0.09},{"lgm":17.485,"eps":0.34},{"lgm":17.49,"eps":0.23},{"lgm":17.495,"eps":0.62},
      {"lgm":17.02,"eps":0.39},{"lgm":17.06,"eps":0.22},{"lgm":17.11,"eps":0.15},{"lgm":17.16,"eps":0.03},{"lgm":17.21,"eps":0.27},{"lgm":17.26,"eps":0.14},{"lgm":17.31,"eps":0.32},{"lgm":17.36,"eps":0.09},{"lgm":17.41,"eps":0.25},{"lgm":17.46,"eps":0.43},{"lgm":17.03,"eps":0.6},{"lgm":17.08,"eps":0.01},{"lgm":17.13,"eps":0.28},{"lgm":17.18,"eps":0.36},{"lgm":17.23,"eps":0.05},{"lgm":17.28,"eps":0.47},{"lgm":17.33,"eps":0.19},{"lgm":17.38,"eps":0.83},{"lgm":17.43,"eps":0},{"lgm":17.48,"eps":0.17},{"lgm":17.04,"eps":0.13},{"lgm":17.09,"eps":0.44},{"lgm":17.14,"eps":0.2},{"lgm":17.19,"eps":0.52},{"lgm":17.24,"eps":0.11},{"lgm":17.29,"eps":0.31},{"lgm":17.34,"eps":0.58},{"lgm":17.39,"eps":0.06},{"lgm":17.44,"eps":0.37},{"lgm":17.49,"eps":0.12},{"lgm":17.01,"eps":0.24},{"lgm":17.07,"eps":0.7},{"lgm":17.12,"eps":0.09},{"lgm":17.17,"eps":0.41},{"lgm":17.22,"eps":0.16},{"lgm":17.27,"eps":0.02},{"lgm":17.32,"eps":0.26},{"lgm":17.37,"eps":0.21},{"lgm":17.42,"eps":0.64},{"lgm":17.47,"eps":0.08},{"lgm":17.05,"eps":0.48},{"lgm":17.15,"eps":0.78},{"lgm":17.25,"eps":0.35},{"lgm":17.35,"eps":0.04},{"lgm":17.45,"eps":0.28},{"lgm":17.1,"eps":0.87},{"lgm":17.2,"eps":0.56},{"lgm":17.3,"eps":0.86},{"lgm":17.4,"eps":0.3},{"lgm":17.28,"eps":0.91},
      {"lgm":17.5,"eps":0.2},{"lgm":17.505,"eps":0.07},{"lgm":17.51,"eps":0.35},{"lgm":17.515,"eps":0.14},{"lgm":17.52,"eps":0.46},{"lgm":17.525,"eps":0.02},{"lgm":17.53,"eps":0.26},{"lgm":17.535,"eps":0.11},{"lgm":17.54,"eps":0.58},{"lgm":17.545,"eps":0.18},{"lgm":17.55,"eps":0.31},{"lgm":17.555,"eps":0.05},{"lgm":17.56,"eps":0.22},{"lgm":17.565,"eps":0.4},{"lgm":17.57,"eps":0.09},{"lgm":17.575,"eps":0.16},{"lgm":17.58,"eps":0.69},{"lgm":17.585,"eps":0.28},{"lgm":17.59,"eps":0},{"lgm":17.595,"eps":0.13},
      {"lgm":17.6,"eps":0.37},{"lgm":17.605,"eps":0.19},{"lgm":17.61,"eps":0.04},{"lgm":17.615,"eps":0.25},{"lgm":17.62,"eps":0.51},{"lgm":17.625,"eps":0.1},{"lgm":17.63,"eps":0.3},{"lgm":17.635,"eps":0.16},{"lgm":17.64,"eps":0.01},{"lgm":17.645,"eps":0.43},{"lgm":17.65,"eps":0.21},{"lgm":17.655,"eps":0.77},{"lgm":17.66,"eps":0.08},{"lgm":17.665,"eps":0.33},{"lgm":17.67,"eps":0.12},{"lgm":17.675,"eps":0.24},{"lgm":17.68,"eps":0.47},{"lgm":17.685,"eps":0.03},{"lgm":17.69,"eps":0.18},{"lgm":17.695,"eps":0.29},
      {"lgm":17.7,"eps":0.14},{"lgm":17.705,"eps":0.39},{"lgm":17.71,"eps":0.06},{"lgm":17.715,"eps":0.22},{"lgm":17.72,"eps":0.6},{"lgm":17.725,"eps":0.11},{"lgm":17.73,"eps":0.27},{"lgm":17.735,"eps":0},{"lgm":17.74,"eps":0.34},{"lgm":17.745,"eps":0.17},{"lgm":17.75,"eps":0.45},{"lgm":17.755,"eps":0.08},{"lgm":17.76,"eps":0.23},{"lgm":17.765,"eps":0.13},{"lgm":17.77,"eps":0.52},{"lgm":17.775,"eps":0.3},{"lgm":17.78,"eps":0.04},{"lgm":17.785,"eps":0.19},{"lgm":17.79,"eps":0.36},{"lgm":17.795,"eps":0.1},
      {"lgm":17.8,"eps":0.935},{"lgm":17.805,"eps":0.21},{"lgm":17.81,"eps":0.07},{"lgm":17.815,"eps":0.42},{"lgm":17.82,"eps":0.15},{"lgm":17.825,"eps":0.28},{"lgm":17.83,"eps":0.02},{"lgm":17.835,"eps":0.64},{"lgm":17.84,"eps":0.18},{"lgm":17.845,"eps":0.33},{"lgm":17.85,"eps":0.09},{"lgm":17.855,"eps":0.24},{"lgm":17.86,"eps":0.48},{"lgm":17.865,"eps":0.12},{"lgm":17.87,"eps":0},{"lgm":17.875,"eps":0.3},{"lgm":17.88,"eps":0.16},{"lgm":17.885,"eps":0.55},{"lgm":17.89,"eps":0.06},{"lgm":17.895,"eps":0.26},
      {"lgm":17.9,"eps":0.2},{"lgm":17.905,"eps":0.38},{"lgm":17.91,"eps":0.11},{"lgm":17.915,"eps":0.03},{"lgm":17.92,"eps":0.29},{"lgm":17.925,"eps":0.14},{"lgm":17.93,"eps":0.46},{"lgm":17.935,"eps":0.08},{"lgm":17.94,"eps":0.22},{"lgm":17.945,"eps":0.71},{"lgm":17.95,"eps":0.17},{"lgm":17.955,"eps":0.32},{"lgm":17.96,"eps":0.01},{"lgm":17.965,"eps":0.25},{"lgm":17.97,"eps":0.13},{"lgm":17.975,"eps":0.41},{"lgm":17.98,"eps":0.07},{"lgm":17.985,"eps":0.19},{"lgm":17.99,"eps":0.35},{"lgm":17.995,"eps":0.1},
      {"lgm":17.52,"eps":0.27},{"lgm":17.57,"eps":0.41},{"lgm":17.62,"eps":0.15},{"lgm":17.67,"eps":0.05},{"lgm":17.72,"eps":0.33},{"lgm":17.77,"eps":0.2},{"lgm":17.82,"eps":0.53},{"lgm":17.87,"eps":0.11},{"lgm":17.92,"eps":0.24},{"lgm":17.97,"eps":0.02},{"lgm":17.54,"eps":0.09},{"lgm":17.59,"eps":0.23},{"lgm":17.64,"eps":0.62},{"lgm":17.69,"eps":0.38},{"lgm":17.74,"eps":0.12},{"lgm":17.79,"eps":0.47},{"lgm":17.84,"eps":0.28},{"lgm":17.89,"eps":0.16},{"lgm":17.94,"eps":0.57},{"lgm":17.99,"eps":0.04},{"lgm":17.56,"eps":0.66},{"lgm":17.66,"eps":0.29},{"lgm":17.76,"eps":0.74},{"lgm":17.86,"eps":0.36},{"lgm":17.96,"eps":0.44},{"lgm":17.61,"eps":0.81},{"lgm":17.71,"eps":0},{"lgm":17.81,"eps":0.31},{"lgm":17.91,"eps":0.67},{"lgm":17.75,"eps":0.85},
      {"lgm":18.0,"eps":0.14},{"lgm":18.01,"eps":0.3},{"lgm":18.015,"eps":0.05},{"lgm":18.02,"eps":0.22},{"lgm":18.03,"eps":0.43},{"lgm":18.035,"eps":0.1},{"lgm":18.04,"eps":0.795},{"lgm":18.045,"eps":0.18},{"lgm":18.05,"eps":0.02},{"lgm":18.055,"eps":0.27},{"lgm":18.06,"eps":0.856},{"lgm":18.065,"eps":0.35},{"lgm":18.07,"eps":0.12},{"lgm":18.08,"eps":0.06},{"lgm":18.085,"eps":0.24},{"lgm":18.09,"eps":0.5},{"lgm":18.1,"eps":0.16},{"lgm":18.105,"eps":0},{"lgm":18.11,"eps":0.31},{"lgm":18.12,"eps":0.09},{"lgm":18.125,"eps":0.2},{"lgm":18.13,"eps":0.4},{"lgm":18.14,"eps":0.13},{"lgm":18.145,"eps":0.03},{"lgm":18.15,"eps":0.26},{"lgm":18.16,"eps":0.58},{"lgm":18.165,"eps":0.17},{"lgm":18.17,"eps":0.07},{"lgm":18.18,"eps":0.34},{"lgm":18.19,"eps":0.21},{"lgm":18.2,"eps":0.01},{"lgm":18.205,"eps":0.12},{"lgm":18.21,"eps":0.45},{"lgm":18.22,"eps":0.25},{"lgm":18.23,"eps":0.08},{"lgm":18.24,"eps":0.18},{"lgm":18.25,"eps":0.36},{"lgm":18.26,"eps":0.04},{"lgm":18.27,"eps":0.63},{"lgm":18.28,"eps":0.15},{"lgm":18.29,"eps":0.28},{"lgm":18.3,"eps":0.1},{"lgm":18.31,"eps":0},{"lgm":18.32,"eps":0.22},{"lgm":18.33,"eps":0.41},{"lgm":18.34,"eps":0.06},{"lgm":18.35,"eps":0.17},{"lgm":18.36,"eps":0.3},{"lgm":18.37,"eps":0.11},{"lgm":18.38,"eps":0.02},{"lgm":18.39,"eps":0.24},{"lgm":18.4,"eps":0.53},{"lgm":18.41,"eps":0.14},{"lgm":18.42,"eps":0.07},{"lgm":18.43,"eps":0.33},{"lgm":18.44,"eps":0.19},{"lgm":18.45,"eps":0.03},{"lgm":18.46,"eps":0.27},{"lgm":18.47,"eps":0.1},{"lgm":18.48,"eps":0.46},{"lgm":18.49,"eps":0.16},
      {"lgm":18.025,"eps":0.37},{"lgm":18.075,"eps":0.2},{"lgm":18.115,"eps":0.68},{"lgm":18.155,"eps":0.11},{"lgm":18.195,"eps":0.29},{"lgm":18.235,"eps":0.47},{"lgm":18.275,"eps":0.05},{"lgm":18.315,"eps":0.19},{"lgm":18.355,"eps":0.56},{"lgm":18.395,"eps":0.08},{"lgm":18.435,"eps":0.13},{"lgm":18.475,"eps":0.35},{"lgm":18.095,"eps":0.03},{"lgm":18.175,"eps":0.25},{"lgm":18.255,"eps":0.14},{"lgm":18.335,"eps":0.09},{"lgm":18.415,"eps":0.22},{"lgm":18.495,"eps":0.01},{"lgm":18.215,"eps":0.6},{"lgm":18.295,"eps":0.38},{"lgm":18.375,"eps":0.44},{"lgm":18.455,"eps":0.05},{"lgm":18.135,"eps":0.71},{"lgm":18.05,"eps":0.47},
      {"lgm":18.31,"eps":0.12},{"lgm":18.33,"eps":0.05},{"lgm":18.35,"eps":0.27},{"lgm":18.38,"eps":0.16},{"lgm":18.4,"eps":0.03},{"lgm":18.42,"eps":0.21},{"lgm":18.44,"eps":0.09},{"lgm":18.46,"eps":0.33},{"lgm":18.48,"eps":0.14},{"lgm":18.5,"eps":0.02},{"lgm":18.52,"eps":0.18},{"lgm":18.54,"eps":0.07},{"lgm":18.56,"eps":0.25},{"lgm":18.58,"eps":0.11},{"lgm":18.6,"eps":0.04},{"lgm":18.63,"eps":0.2},{"lgm":18.65,"eps":0.08},{"lgm":18.68,"eps":0.15},{"lgm":18.71,"eps":0.01},{"lgm":18.74,"eps":0.12},{"lgm":18.77,"eps":0.23},{"lgm":18.8,"eps":0.06},{"lgm":18.84,"eps":0.16},{"lgm":18.88,"eps":0.03},{"lgm":18.93,"eps":0.1},
      {"lgm":18.5,"eps":0.09},{"lgm":18.51,"eps":0.24},{"lgm":18.52,"eps":0.02},{"lgm":18.53,"eps":0.36},{"lgm":18.54,"eps":0.13},{"lgm":18.55,"eps":0.05},{"lgm":18.56,"eps":0.19},{"lgm":18.57,"eps":0.42},{"lgm":18.58,"eps":0.07},{"lgm":18.59,"eps":0.28},{"lgm":18.6,"eps":0},{"lgm":18.61,"eps":0.15},{"lgm":18.62,"eps":0.31},{"lgm":18.63,"eps":0.1},{"lgm":18.64,"eps":0.04},{"lgm":18.65,"eps":0.22},{"lgm":18.66,"eps":0.5},{"lgm":18.67,"eps":0.12},{"lgm":18.68,"eps":0.03},{"lgm":18.69,"eps":0.26},{"lgm":18.7,"eps":0.17},{"lgm":18.71,"eps":0.08},{"lgm":18.72,"eps":0.35},{"lgm":18.73,"eps":0.01},{"lgm":18.74,"eps":0.2},{"lgm":18.75,"eps":0.11},{"lgm":18.76,"eps":0.45},{"lgm":18.77,"eps":0.06},{"lgm":18.78,"eps":0.14},{"lgm":18.8,"eps":0.29},{"lgm":18.81,"eps":0.02},{"lgm":18.82,"eps":0.18},{"lgm":18.83,"eps":0.09},{"lgm":18.85,"eps":0.38},{"lgm":18.86,"eps":0.13},{"lgm":18.87,"eps":0.04},{"lgm":18.88,"eps":0.23},{"lgm":18.89,"eps":0.741},{"lgm":18.9,"eps":0.1},{"lgm":18.92,"eps":0.16},{"lgm":18.93,"eps":0.52},{"lgm":18.95,"eps":0.06},{"lgm":18.96,"eps":0.27},{"lgm":18.98,"eps":0.01},{"lgm":18.99,"eps":0.12},{"lgm":18.62,"eps":0.56},{"lgm":18.79,"eps":0.47},{"lgm":18.55,"eps":0.65},{"lgm":18.7,"eps":0.6},{"lgm":18.73,"eps":0.66},{"lgm":18.74,"eps":0.61},
      {"lgm":19.02,"eps":0.2},{"lgm":19.04,"eps":0.05},{"lgm":19.06,"eps":0.33},{"lgm":19.08,"eps":0.12},{"lgm":19.1,"eps":0.02},{"lgm":19.12,"eps":0.26},{"lgm":19.14,"eps":0.09},{"lgm":19.16,"eps":0.4},{"lgm":19.18,"eps":0.15},{"lgm":19.2,"eps":0},{"lgm":19.22,"eps":0.31},{"lgm":19.24,"eps":0.07},{"lgm":19.26,"eps":0.18},{"lgm":19.28,"eps":0.55},{"lgm":19.3,"eps":0.11},{"lgm":19.33,"eps":0.03},{"lgm":19.35,"eps":0.24},{"lgm":19.38,"eps":0.14},{"lgm":19.4,"eps":0.36},{"lgm":19.43,"eps":0.06},{"lgm":19.45,"eps":0.21},{"lgm":19.48,"eps":0.1},{"lgm":19.5,"eps":0.46},{"lgm":19.53,"eps":0.02},{"lgm":19.55,"eps":0.17},{"lgm":19.58,"eps":0.29},{"lgm":19.6,"eps":0.08},{"lgm":19.63,"eps":0.13},{"lgm":19.66,"eps":0.679},{"lgm":19.68,"eps":0.22},{"lgm":19.7,"eps":0.04},{"lgm":19.74,"eps":0.366},{"lgm":19.75,"eps":0.239},{"lgm":19.77,"eps":0.279},{"lgm":19.8,"eps":0.11},{"lgm":19.83,"eps":0.07},{"lgm":19.86,"eps":0.19},{"lgm":19.9,"eps":0.03},{"lgm":19.93,"eps":0.15},{"lgm":19.96,"eps":0},{"lgm":19.98,"eps":0.269},{"lgm":19.98,"eps":0.025},{"lgm":19.3,"eps":0.6},{"lgm":19.12,"eps":0.48},{"lgm":19.45,"eps":0.39},{"lgm":19.33,"eps":0.58},
      {"lgm":20.0,"eps":0.716},{"lgm":20.94,"eps":0.657},{"lgm":20.0,"eps":0.568},{"lgm":20.18,"eps":0.503},{"lgm":20.84,"eps":0.435},{"lgm":20.0,"eps":0.374},{"lgm":20.44,"eps":0.292},{"lgm":20.97,"eps":0.272},{"lgm":21.06,"eps":0.276},{"lgm":20.33,"eps":0.256},{"lgm":20.39,"eps":0.252},{"lgm":20.72,"eps":0.245},{"lgm":20.18,"eps":0.212},{"lgm":20.28,"eps":0.222},{"lgm":20.68,"eps":0.209},{"lgm":20.86,"eps":0.189},{"lgm":21.41,"eps":0.109},{"lgm":20.75,"eps":0.112},{"lgm":20.88,"eps":0.129},{"lgm":21.0,"eps":0.123},{"lgm":20.33,"eps":0.123},{"lgm":20.39,"eps":0.103},{"lgm":20.43,"eps":0.089},{"lgm":20.52,"eps":0.056},{"lgm":20.76,"eps":0.04},{"lgm":20.85,"eps":0.045},{"lgm":20.93,"eps":0.027},{"lgm":21.32,"eps":0.042},{"lgm":20.05,"eps":0.049},{"lgm":20.14,"eps":0.041},{"lgm":20.02,"eps":0.11},{"lgm":20.1,"eps":0.07},{"lgm":20.2,"eps":0.02}
    ]
  },
  "spacing": 98,
  "bounds": "flush",
  "hconcat": [
    {
      "width": 391,
      "height": 286,
      "title": {"text": "A", "anchor": "start", "frame": "group", "fontSize": 21, "fontWeight": "bold", "color": "#000", "dx": -64, "dy": 38, "offset": 0},
      "layer": [
        {
          "layer": [
            {
              "data": {"name": "eq"},
              "mark": {"type": "circle", "size": 20, "fill": "#0000ee", "stroke": "#000055", "strokeWidth": 0.5, "opacity": 1},
              "encoding": {
                "x": {"field": "lgm", "type": "quantitative", "scale": {"domain": [13, 22], "nice": false, "zero": false},
                  "axis": {"orient": "bottom", "values": [13, 14, 15, 16, 17, 18, 19, 20, 21, 22], "labelOverlap": false, "labelBound": false, "labelFlush": false,
                    "labelExpr": "datum.value == 14 ? '10¹⁴N·m' : datum.value == 16 ? '10¹⁶N·m' : datum.value == 18 ? '10¹⁸N·m' : datum.value == 20 ? '10²⁰N·m' : datum.value == 22 ? '10²²N·m' : ''",
                    "title": "M₀", "titleFontStyle": "italic", "titlePadding": 4}},
                "y": {"field": "eps", "type": "quantitative", "scale": {"domain": [-0.052, 1.092], "nice": false, "zero": false},
                  "axis": {"values": [0, 0.2, 0.4, 0.6, 0.8, 1], "format": ".0%", "title": "2|ε|", "titlePadding": 6}}
              }
            },
            {
              "data": {"values": [{"lgm": 20.18, "eps": 0.948, "label": "N = 6333"}, {"lgm": 20.18, "eps": 0.9, "label": "μ = 19.5%,  σ = 17.6%"}]},
              "mark": {"type": "text", "fontSize": 10.5, "color": "#000"},
              "encoding": {
                "x": {"field": "lgm", "type": "quantitative"},
                "y": {"field": "eps", "type": "quantitative"},
                "text": {"field": "label"}
              }
            }
          ]
        },
        {
          "data": {"values": [{}]},
          "mark": {"type": "point", "opacity": 0},
          "encoding": {
            "x": {"datum": 5, "type": "quantitative", "scale": {"domain": [2.6, 8.6], "nice": false, "zero": false},
              "axis": {"orient": "top", "values": [3, 4, 5, 6, 7, 8], "format": "d", "title": "Mw", "titleFontStyle": "italic", "titlePadding": 4, "labelPadding": 5}}
          }
        }
      ],
      "resolve": {"scale": {"x": "independent"}}
    },
    {
      "width": 392,
      "height": 286,
      "title": {"text": "B", "anchor": "start", "frame": "group", "fontSize": 21, "fontWeight": "bold", "color": "#000", "dx": -64, "dy": 35, "offset": 0},
      "layer": [
        {
          "data": {"name": "bins"},
          "layer": [
            {
              "mark": {"type": "area", "color": "#dcdcdc", "opacity": 1},
              "encoding": {
                "x": {"field": "Mw", "type": "quantitative", "scale": {"domain": [2.6, 8.6], "nice": false, "zero": false},
                  "axis": {"orient": "top", "values": [3, 4, 5, 6, 7, 8], "format": "d", "title": "Mw", "titleFontStyle": "italic", "titlePadding": 4, "labelPadding": 5}},
                "y": {"field": "lo", "type": "quantitative", "scale": {"domain": [-0.094, 0.6], "nice": false, "zero": false},
                  "axis": {"values": [0, 0.2, 0.4, 0.6], "format": ".0%", "title": "μ, σ", "titleFontStyle": "italic", "titlePadding": 5}},
                "y2": {"field": "hi"}
              }
            },
            {
              "mark": {"type": "line", "color": "#999999", "strokeWidth": 1, "point": {"filled": true, "color": "#999999", "size": 14}},
              "encoding": {"x": {"field": "Mw", "type": "quantitative"}, "y": {"field": "hi", "type": "quantitative"}}
            },
            {
              "mark": {"type": "line", "color": "#999999", "strokeWidth": 1, "point": {"filled": true, "color": "#999999", "size": 14}},
              "encoding": {"x": {"field": "Mw", "type": "quantitative"}, "y": {"field": "lo", "type": "quantitative"}}
            },
            {
              "mark": {"type": "line", "color": "#0000ff", "strokeWidth": 1.5, "point": {"filled": true, "color": "#0000ee", "size": 32}},
              "encoding": {"x": {"field": "Mw", "type": "quantitative"}, "y": {"field": "mu", "type": "quantitative"}}
            },
            {
              "mark": {"type": "text", "dy": -14, "fontSize": 13, "color": "#999999"},
              "encoding": {"x": {"field": "Mw", "type": "quantitative"}, "y": {"field": "hi", "type": "quantitative"}, "text": {"field": "sigma", "format": ".1%"}}
            },
            {
              "mark": {"type": "text", "dy": 15, "fontSize": 13, "color": "#000"},
              "encoding": {"x": {"field": "Mw", "type": "quantitative"}, "y": {"field": "mu", "type": "quantitative"}, "text": {"field": "mu", "format": ".1%"}}
            },
            {
              "mark": {"type": "text", "fontSize": 10.5, "color": "#000"},
              "encoding": {"x": {"field": "Mw", "type": "quantitative"}, "y": {"datum": 0.562, "type": "quantitative"}, "text": {"field": "nlabel"}}
            },
            {
              "mark": {"type": "point", "filled": true, "fill": "#ffffff", "fillOpacity": 1, "stroke": "#999999", "strokeWidth": 1.2, "opacity": 1, "size": 441,
                "shape": "M-0.52,-1H0.52Q0.81,-1 0.81,-0.71V0.71Q0.81,1 0.52,1H-0.52Q-0.81,1 -0.81,0.71V-0.71Q-0.81,-1 -0.52,-1Z"},
              "encoding": {"x": {"datum": 5.5, "type": "quantitative"}, "y": {"datum": 0.383, "type": "quantitative"}}
            },
            {
              "mark": {"type": "text", "fontSize": 15, "fontStyle": "italic", "color": "#999999", "text": "σ"},
              "encoding": {"x": {"datum": 5.5, "type": "quantitative"}, "y": {"datum": 0.383, "type": "quantitative"}}
            },
            {
              "mark": {"type": "point", "filled": true, "fill": "#ffffff", "fillOpacity": 1, "stroke": "#000000", "strokeWidth": 1.2, "opacity": 1, "size": 441,
                "shape": "M-0.52,-1H0.52Q0.81,-1 0.81,-0.71V0.71Q0.81,1 0.52,1H-0.52Q-0.81,1 -0.81,0.71V-0.71Q-0.81,-1 -0.52,-1Z"},
              "encoding": {"x": {"datum": 5.5, "type": "quantitative"}, "y": {"datum": 0.2115, "type": "quantitative"}}
            },
            {
              "mark": {"type": "text", "fontSize": 15, "fontStyle": "italic", "color": "#000", "text": "μ"},
              "encoding": {"x": {"datum": 5.5, "type": "quantitative"}, "y": {"datum": 0.2115, "type": "quantitative"}}
            }
          ]
        },
        {
          "data": {"values": [{}]},
          "mark": {"type": "point", "opacity": 0},
          "encoding": {
            "x": {"datum": 13, "type": "quantitative", "scale": {"domain": [13, 22], "nice": false, "zero": false},
              "axis": {"orient": "bottom", "values": [13, 14, 15, 16, 17, 18, 19, 20, 21, 22], "labelOverlap": false, "labelBound": false, "labelFlush": false,
                "labelExpr": "datum.value == 14 ? '10¹⁴N·m' : datum.value == 16 ? '10¹⁶N·m' : datum.value == 18 ? '10¹⁸N·m' : datum.value == 20 ? '10²⁰N·m' : datum.value == 22 ? '10²²N·m' : ''",
                "title": "M₀", "titleFontStyle": "italic", "titlePadding": 4}}
          }
        }
      ],
      "resolve": {"scale": {"x": "independent"}}
    }
  ]
}
